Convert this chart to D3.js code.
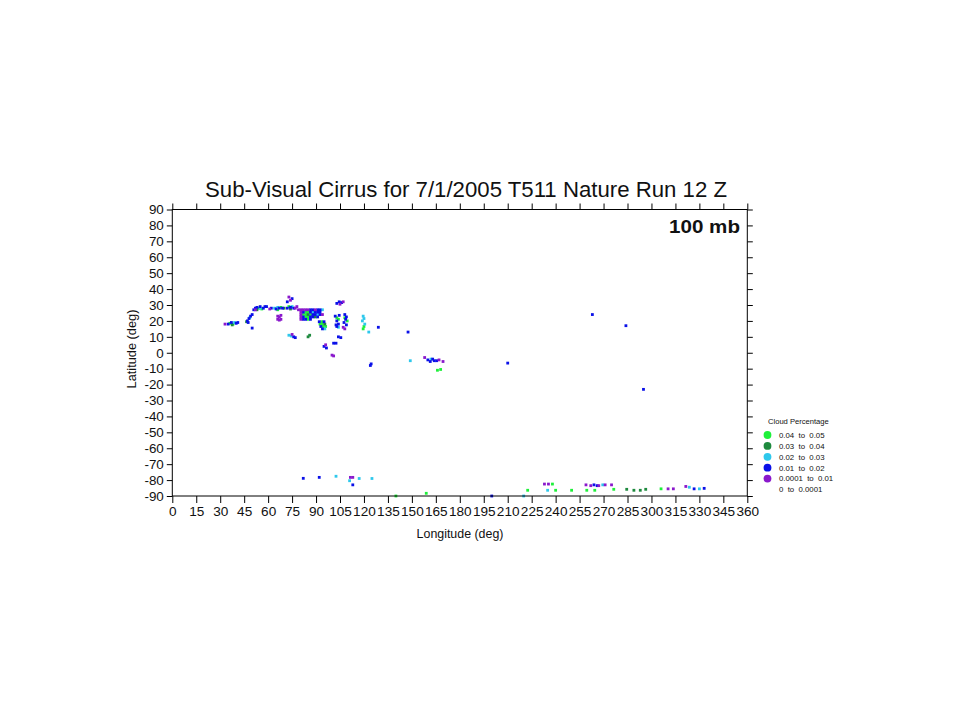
<!DOCTYPE html>
<html><head><meta charset="utf-8">
<script src="https://cdn.jsdelivr.net/npm/d3@7"></script>
<style>
html,body{margin:0;padding:0;background:#fff;}
text{font-family:"Liberation Sans",Arial,sans-serif;}
</style></head>
<body>
<svg id="chart" width="960" height="720"></svg>
<script>
// ---------- data ----------
const titleText = "Sub-Visual Cirrus for 7/1/2005 T511 Nature Run 12 Z";
const levelText = "100 mb";
const xLabel = "Longitude (deg)";
const yLabel = "Latitude (deg)";
const xTicks = d3.range(0, 361, 15);
const yTicks = d3.range(-90, 91, 10);
const legendTitle = "Cloud Percentage";
const categories = ["0.04  to  0.05", "0.03  to  0.04", "0.02  to  0.03", "0.01  to  0.02", "0.0001  to  0.01", "0  to  0.0001"];
const catColors = ["#1ef03a", "#1e8a3e", "#2ec8ec", "#0a10e8", "#8a18cc", "#ffffff"];

// [lon, lat] grid cells per cloud-percentage class
const pts004 = [ // 0.04 - 0.05 bright green
  [36,18.5],[38,18],[54,28],[56,27.5],[68,28.5],[66,27],[73,29],
  [83.5,25.5],[85,25.5],[82,24],[83.5,24],[86.5,24],[83.5,22.5],[85,22.5],[85,21],
  [93.5,19.5],[92.5,18],[94,18],[94.5,16.5],[96,16.5],
  [103,22],[104,21],[109.5,20],[108,22],[120,16.5],[119.5,15],
  [166,-11],[168,-10.5],[140,-90],[159,-88.3],
  [222.5,-86.4],[238,-82.5],[240,-86.4],[250,-86.4],[259.5,-86.4],[264.5,-86.4],[276.4,-85.8],[306,-85.5]
];
const pts003 = [ // 0.03 - 0.04 dark green
  [37.5,17.5],[46.5,19.5],[53,27],[70,28],[74,27.5],[85,24],[89.5,22.5],[95.5,18],
  [85,10],[86,11],
  [284.5,-85.8],[289,-86.4],[293,-86.4],[296.4,-85.8]
];
const pts002 = [ // 0.02 - 0.03 cyan
  [39,19],[48.5,22],[55,28],[64,28],[66,28.5],[75,29],[94,27],[88,25.5],[91,24],[95.5,15],
  [73,11],[74.5,10.5],[104,16],[119.5,23],[120,21.5],[119,20],[120.5,18],[123,13],[149,-5],[162,-4],
  [102.5,-77.6],[111,-80.4],[117,-79],[125,-79],
  [220,-90],[235,-86.4],[269.5,-83],[323.7,-84.5],[330,-85.5]
];
const pts001 = [ // 0.01 - 0.02 blue
  [35,18],[37,19],[40,18.5],[41,19],[47,20],[48,21.5],[49,23],[47.5,19],[50,24],[50,15.5],
  [51,27],[52,28],[53,28.5],[55,29],[57,28],[58,29],[59,29],[62,28],
  [65,27.5],[67,28],[69,28],[72,32],[75,34],[72,28],[74,28.5],[76,28],
  [86.5,27],[88,27],[91,27],[92.5,27],[82,25.5],[86.5,25.5],[89.5,25.5],[91,25.5],[92.5,25.5],
  [88,24],[89.5,24],[92.5,24],[82,22.5],[86.5,22.5],[88,22.5],[91,22.5],[82,21],[83.5,21],[86.5,21],
  [92,19.5],[95,19.5],[93,16.5],[94,15],
  [76,10],[77,9.5],[103,31],[104.5,32],[106,31.5],[102,23],[104.5,23.5],[103,20],
  [102.5,17.5],[104,18],[103,16.5],[108,24],[109,22.5],[108.5,21],[107.5,19],[109,17.5],
  [104,10],[105.5,9.5],[95,4],[96.5,3],[101,6],[102.5,6],[124,-8],[124.5,-7],[129,16],[147.6,13],
  [160,-4.5],[161.5,-5.5],[163,-4],[164,-5],[165.5,-5],[210,-6.5],[263,24],[284,17],[295,-23],
  [82,-78.9],[92,-78.3],[113,-83],[200,-90],
  [264,-83],[266,-83.5],[326.7,-85.5],[333,-85.2]
];
const pts0001 = [ // 0.0001 - 0.01 purple
  [33,18],[52,27],[61,27.5],[73,35],[74,33],[77,28],[78,29],[79,27],
  [66,23],[67,22.5],[68,23.5],[66,21],[67,20.5],[68,21],
  [80.5,27],[82,27],[83.5,27],[85,27],[89.5,27],[80.5,25.5],[80.5,24],[94,24],[80.5,22.5],[80.5,21],
  [75,11.5],[105,30.5],[107,32],[107,16],[108,15],[96,5],[100,-1.5],[101,-2],
  [158,-3],[167,-4.5],[169.5,-5.5],
  [111.5,-78.3],[113,-78.3],
  [233,-82.5],[235.5,-82.5],[259,-83],[262,-83.5],[267,-83.5],[271,-83],[275,-83],
  [310.4,-85.5],[313.7,-85.5],[321.5,-84]
];
const seriesPts = [pts004, pts003, pts002, pts001, pts0001];

// ---------- drawing ----------
const svg = d3.select("#chart");
svg.append("rect").attr("width", 960).attr("height", 720).attr("fill", "#fff");

const x = d3.scaleLinear().domain([0, 360]).range([172.3, 747.3]);
const y = d3.scaleLinear().domain([-90, 90]).range([496, 209.5]);

// points
seriesPts.forEach((arr, i) => {
  svg.append("g").selectAll("rect").data(arr).join("rect")
    .attr("x", d => x(d[0]) - 1.4)
    .attr("y", d => y(d[1]) - 1.4)
    .attr("width", 2.8).attr("height", 2.8)
    .attr("fill", catColors[i]);
});

// frame
svg.append("rect").attr("x", x(0)).attr("y", y(90))
  .attr("width", x(360) - x(0)).attr("height", y(-90) - y(90))
  .attr("fill", "none").attr("stroke", "#000").attr("stroke-width", 1);

function styleAxis(g, fs) {
  g.select(".domain").remove();
  g.selectAll("line").attr("stroke", "#000");
  g.selectAll("text").attr("font-size", fs).attr("fill", "#111")
    .attr("font-family", '"Liberation Sans",Arial,sans-serif');
}

svg.append("g").attr("transform", `translate(0,${y(-90)})`)
  .call(d3.axisBottom(x).tickValues(xTicks).tickSize(7).tickPadding(3.5).tickSizeOuter(0).tickFormat(d => String(d)))
  .call(g => styleAxis(g, 13.6));
svg.append("g").attr("transform", `translate(0,${y(90)})`)
  .call(d3.axisTop(x).tickValues(xTicks).tickSize(6).tickSizeOuter(0).tickFormat(""))
  .call(g => styleAxis(g, 13));
svg.append("g").attr("transform", `translate(${x(0)},0)`)
  .call(d3.axisLeft(y).tickValues(yTicks).tickSize(5.5).tickPadding(3).tickSizeOuter(0).tickFormat(d => String(d)))
  .call(g => styleAxis(g, 13.4));
svg.append("g").attr("transform", `translate(${x(360)},0)`)
  .call(d3.axisRight(y).tickValues(yTicks).tickSize(5.5).tickSizeOuter(0).tickFormat(""))
  .call(g => styleAxis(g, 13));

// title
svg.append("text").attr("x", 466).attr("y", 197).attr("text-anchor", "middle")
  .attr("font-size", 22).attr("fill", "#111")
  .attr("textLength", 522).attr("lengthAdjust", "spacingAndGlyphs").text(titleText);

// level label
svg.append("text").attr("x", 740).attr("y", 233).attr("text-anchor", "end")
  .attr("font-size", 17.5).attr("font-weight", "bold").attr("fill", "#111")
  .attr("textLength", 71).attr("lengthAdjust", "spacingAndGlyphs").text(levelText);

// axis titles
svg.append("text").attr("x", 460).attr("y", 538).attr("text-anchor", "middle")
  .attr("font-size", 12.4).attr("fill", "#111").text(xLabel);
svg.append("text").attr("transform", "translate(135.5,349) rotate(-90)").attr("text-anchor", "middle")
  .attr("font-size", 12.8).attr("fill", "#111").text(yLabel);

// legend
const lg = svg.append("g");
lg.append("text").attr("x", 768).attr("y", 424).attr("font-size", 7.6).attr("fill", "#111").text(legendTitle);
categories.forEach((c, i) => {
  const cy = 435 + i * 10.9;
  if (i < 5) lg.append("circle").attr("cx", 767.5).attr("cy", cy).attr("r", 3.9).attr("fill", catColors[i]);
  lg.append("text").attr("x", 779).attr("y", cy + 2.8).attr("font-size", 7.8).attr("fill", "#111")
    .style("white-space", "pre").text(c);
});
</script>
</body></html>
